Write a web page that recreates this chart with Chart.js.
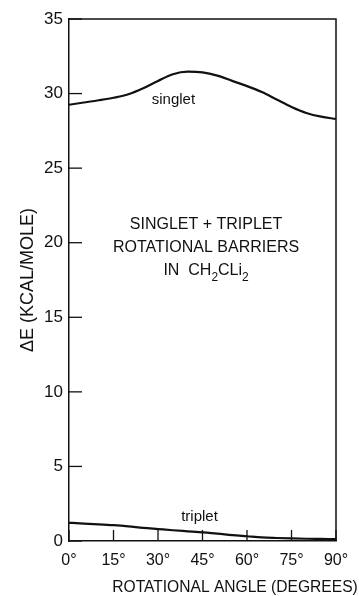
<!DOCTYPE html>
<html>
<head>
<meta charset="utf-8">
<script src="https://cdn.jsdelivr.net/npm/chart.js@4"></script>
<style>
  html, body { margin: 0; padding: 0; background: #fff; }
  #wrap { width: 359px; height: 596px; }
</style>
</head>
<body>
<div id="wrap"><canvas id="lineChart"></canvas></div>
<script>
// rotational angle (degrees) and energies (kcal/mole)
const angles = [0, 5, 10, 15, 20, 25, 30, 35, 40, 45, 50, 55, 60, 65, 70, 75, 80, 85, 90];
const singlet = [29.25, 29.4, 29.55, 29.72, 29.95, 30.35, 30.85, 31.3, 31.47, 31.42, 31.2, 30.85, 30.5, 30.1, 29.6, 29.1, 28.7, 28.45, 28.3];
const triplet = [1.22, 1.17, 1.12, 1.06, 0.98, 0.88, 0.8, 0.72, 0.65, 0.58, 0.5, 0.4, 0.32, 0.24, 0.2, 0.17, 0.15, 0.14, 0.13];
const xTicks = [0, 15, 30, 45, 60, 75, 90];
const yTicks = [0, 5, 10, 15, 20, 25, 30, 35];

const ink = '#111';
const font = '"Liberation Sans", Arial, sans-serif';

const toPoints = (ys) => angles.map((a, i) => ({ x: a, y: ys[i] }));

// inward tick marks, box frame and the text labels inside the plot
const decorations = {
  id: 'decorations',
  afterDraw(chart) {
    const ctx = chart.ctx;
    const area = chart.chartArea;
    const xs = chart.scales.x;
    const ys = chart.scales.y;
    ctx.save();
    ctx.strokeStyle = ink;
    ctx.lineWidth = 1.5;
    ctx.beginPath();
    ctx.moveTo(area.left, area.top);
    ctx.lineTo(area.right, area.top);
    ctx.lineTo(area.right, area.bottom);
    ctx.stroke();

    ctx.lineWidth = 1.3;
    yTicks.forEach(v => {
      const py = ys.getPixelForValue(v);
      ctx.beginPath();
      ctx.moveTo(area.left, py);
      ctx.lineTo(area.left + 13, py);
      ctx.stroke();
    });
    xTicks.forEach(v => {
      const px = xs.getPixelForValue(v);
      ctx.beginPath();
      ctx.moveTo(px, area.bottom);
      ctx.lineTo(px, area.bottom - 11);
      ctx.stroke();
    });

    ctx.fillStyle = ink;
    ctx.textAlign = 'center';
    ctx.textBaseline = 'middle';
    ctx.font = '15px ' + font;
    ctx.fillText('singlet', xs.getPixelForValue(35.2), ys.getPixelForValue(29.6));
    ctx.fillText('triplet', xs.getPixelForValue(44), ys.getPixelForValue(1.6));

    ctx.font = '16px ' + font;
    const cx = xs.getPixelForValue(46.2);
    ctx.fillText('SINGLET + TRIPLET', cx, ys.getPixelForValue(21.2));
    ctx.fillText('ROTATIONAL BARRIERS', cx, ys.getPixelForValue(19.65));

    // formula with subscripts: IN CH2CLi2
    const parts = [['IN  CH', 0], ['2', 1], ['CLi', 0], ['2', 1]];
    const big = '16px ' + font;
    const small = '12px ' + font;
    let total = 0;
    parts.forEach(p => { ctx.font = p[1] ? small : big; total += ctx.measureText(p[0]).width; });
    let x0 = cx - total / 2;
    const yBase = ys.getPixelForValue(18.15);
    ctx.textAlign = 'left';
    parts.forEach(p => {
      ctx.font = p[1] ? small : big;
      ctx.fillText(p[0], x0, yBase + (p[1] ? 7 : 0));
      x0 += ctx.measureText(p[0]).width;
    });

    // x axis title sits right of centre in the original
    ctx.font = '15.6px ' + font;
    ctx.textAlign = 'center';
    ctx.fillText('ROTATIONAL ANGLE (DEGREES)', 235, 588);
    ctx.restore();
  }
};

const ctx = document.getElementById('lineChart').getContext('2d');
const lineChart = new Chart(ctx, {
  type: 'scatter',
  data: {
    datasets: [
      {
        label: 'singlet',
        data: toPoints(singlet),
        showLine: true,
        borderColor: ink,
        borderWidth: 2.2,
        pointRadius: 0,
        cubicInterpolationMode: 'monotone'
      },
      {
        label: 'triplet',
        data: toPoints(triplet),
        showLine: true,
        borderColor: ink,
        borderWidth: 2.2,
        pointRadius: 0,
        cubicInterpolationMode: 'monotone'
      }
    ]
  },
  options: {
    responsive: true,
    maintainAspectRatio: false,
    animation: false,
    layout: { padding: { top: 19, right: 23, left: 0, bottom: 0 } },
    plugins: {
      legend: { display: false },
      tooltip: { enabled: false }
    },
    scales: {
      x: {
        type: 'linear',
        min: 0,
        max: 90,
        afterBuildTicks: (scale) => { scale.ticks = xTicks.map(v => ({ value: v })); },
        afterFit: (scale) => { scale.height = 55; },
        grid: { drawOnChartArea: false, drawTicks: false },
        border: { color: ink, width: 1.5 },
        ticks: {
          color: ink,
          padding: 10,
          maxRotation: 0,
          font: { family: font, size: 16 },
          callback: (v) => v + '°'
        }
      },
      y: {
        min: 0,
        max: 35,
        afterBuildTicks: (scale) => { scale.ticks = yTicks.map(v => ({ value: v })); },
        afterFit: (scale) => { scale.width = 69; },
        grid: { drawOnChartArea: false, drawTicks: false },
        border: { color: ink, width: 1.5 },
        title: {
          display: true,
          text: 'ΔE (KCAL/MOLE)',
          color: ink,
          font: { family: font, size: 18 },
          padding: { top: 17, bottom: 0 }
        },
        ticks: {
          color: ink,
          padding: 6,
          font: { family: font, size: 17 }
        }
      }
    }
  },
  plugins: [decorations]
});
</script>
</body>
</html>
